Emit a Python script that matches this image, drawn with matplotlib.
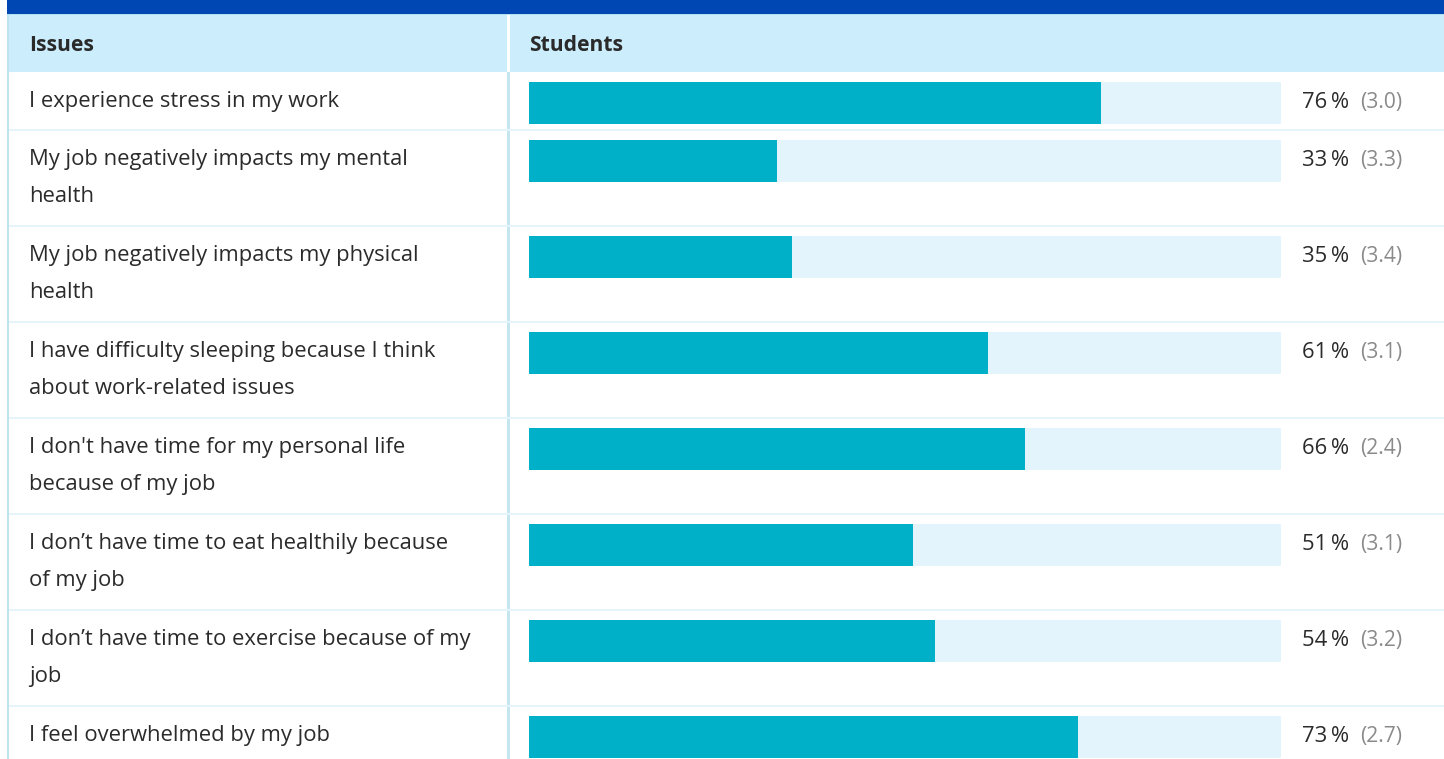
import matplotlib
matplotlib.use("Agg")
import matplotlib.pyplot as plt
from matplotlib.patches import Rectangle

issues = [
    "I experience stress in my work",
    "My job negatively impacts my mental\nhealth",
    "My job negatively impacts my physical\nhealth",
    "I have difficulty sleeping because I think\nabout work-related issues",
    "I don't have time for my personal life\nbecause of my job",
    "I don\u2019t have time to eat healthily because\nof my job",
    "I don\u2019t have time to exercise because of my\njob",
    "I feel overwhelmed by my job",
]
percent = [76, 33, 35, 61, 66, 51, 54, 73]
scores = ["3.0", "3.3", "3.4", "3.1", "2.4", "3.1", "3.2", "2.7"]
headers = ["Issues", "Students"]

W, H = 1444, 759
DPI = 100
FONT = "Open Sans"
px = 72.0 / DPI

fig = plt.figure(figsize=(W / DPI, H / DPI), dpi=DPI)
fig.patch.set_facecolor("white")

ax = fig.add_axes([0, 0, 1, 1])
ax.set_xlim(0, W)
ax.set_ylim(H, 0)
ax.axis("off")

left_x = 7
div_x = 508
band_h = 14
head_top, head_bot = 15, 72
one_line_h, two_line_h = 58, 96
bar_x0, bar_x1 = 529, 1281
bar_h = 42
line_gap = 37

ax.add_patch(Rectangle((left_x, 0), W - left_x, band_h, color="#0047b3", lw=0))
ax.add_patch(Rectangle((left_x, band_h), W - left_x, 1.5, color="#b5e0f0", lw=0))
ax.add_patch(Rectangle((left_x + 1, head_top), W - left_x, head_bot - head_top, color="#cceefc", lw=0))
ax.add_patch(Rectangle((div_x - 1.5, head_top), 3, head_bot - head_top, color="white", lw=0))
hb = 51
ax.text(29, hb, headers[0], fontsize=21 * px, fontweight="bold", color="#2a2a2a",
        va="baseline", ha="left", family=FONT)
ax.text(bar_x0, hb, headers[1], fontsize=21 * px, fontweight="bold", color="#2a2a2a",
        va="baseline", ha="left", family=FONT)

row_tops = []
y = head_bot
for lab in issues:
    row_tops.append(y)
    y += two_line_h if "\n" in lab else one_line_h

ax.add_patch(Rectangle((left_x - 0.5, head_top), 2, H - head_top, color="#bfe3ee", lw=0))
ax.add_patch(Rectangle((div_x - 1.5, head_bot), 3, H - head_bot, color="#c5e6ef", lw=0))

for top, lab in zip(row_tops, issues):
    if top != head_bot:
        ax.add_patch(Rectangle((left_x + 1.5, top - 1), W, 2.2, color="#e4f4f8", lw=0))
    for i, line in enumerate(lab.split("\n")):
        ax.text(29, top + 35 + i * line_gap, line, fontsize=22 * px, color="#2b2b2b",
                va="baseline", ha="left", family=FONT)

bx = fig.add_axes([bar_x0 / W, 0, (bar_x1 - bar_x0) / W, 1])
bx.set_xlim(0, 100)
bx.set_ylim(H, 0)
bx.axis("off")
centers = [t + 10 + bar_h / 2 for t in row_tops]
bx.barh(centers, [100] * len(centers), height=bar_h, color="#e3f4fc", lw=0)
bx.barh(centers, percent, height=bar_h, color="#00b0c8", lw=0)

for top, p, s in zip(row_tops, percent, scores):
    yy = top + 36
    ax.text(1302, yy, f"{p}\u2009%", fontsize=22 * px, color="#2b2b2b", va="baseline", ha="left",
            family=FONT)
    ax.text(1360, yy, f"({s})", fontsize=21 * px, color="#8a8a8a", va="baseline", ha="left",
            family=FONT)

fig.savefig("out.png", dpi=DPI, facecolor="white")
